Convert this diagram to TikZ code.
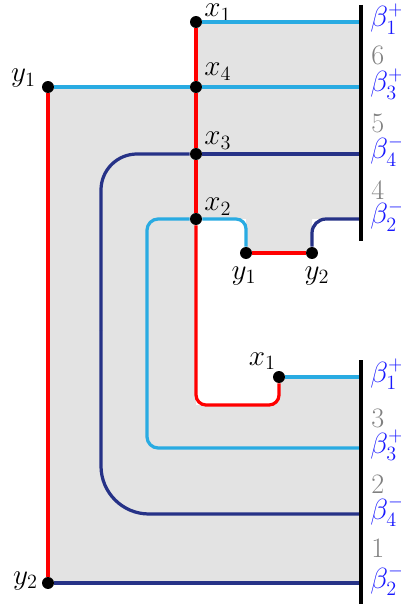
\documentclass[tikz,border=0pt]{standalone}
\usepackage{amsmath}
\usepackage{tikz}
\usepackage{xcolor}

\definecolor{sky}{RGB}{41,171,226}
\definecolor{navy}{RGB}{38,50,135}
\definecolor{betablue}{RGB}{25,25,255}

\begin{document}
\begin{tikzpicture}[x=0.025cm,y=-0.025cm,font=\fontsize{20}{24}\selectfont,
    dot/.style={circle,fill=black,inner sep=0pt,minimum size=8.5pt},
    redl/.style={line width=2.3pt,red},
    skyl/.style={line width=2.3pt,sky},
    navyl/.style={line width=2.3pt,navy},
    bar/.style={line width=3pt,black},
    xl/.style={anchor=base west,inner sep=0pt},
    xr/.style={anchor=base east,inner sep=0pt},
    yl/.style={anchor=base,inner sep=0pt},
    blab/.style={anchor=base west,inner sep=0pt,text=betablue},
    num/.style={anchor=base west,inner sep=0pt,text=gray}]
  \useasboundingbox (0,0) rectangle (400,609);

  % shaded region
  \fill[black!11] (196,22) -- (361,22) -- (361,219) -- (312,219) [rounded corners=3.5mm]
    -- (312,253) [sharp corners] -- (246,253) -- (246,219) [rounded corners=2.5mm]
    -- (196,219) [sharp corners] -- (196,405) [rounded corners=2.5mm] -- (279,405)
    -- (279,377) [sharp corners] -- (361,377) -- (361,583) -- (48,583) -- (48,87)
    -- (196,87) -- cycle;

  % points
  \node[dot] (X1) at (196,22) {};
  \node[dot] (X4) at (196,87) {};
  \node[dot] (X3) at (196,154) {};
  \node[dot] (X2) at (196,219) {};
  \node[dot] (Y1) at (48,87) {};
  \node[dot] (Y2) at (48,583) {};
  \node[dot] (Y1m) at (246,253) {};
  \node[dot] (Y2m) at (312,253) {};
  \node[dot] (X1m) at (279,377) {};

  % their names
  \node[xl] (lX1) at ([shift={(8,-5)}]X1) {$x_1$};
  \node[xl] (lX4) at ([shift={(8,-11)}]X4) {$x_4$};
  \node[xl] (lX3) at ([shift={(8,-9)}]X3) {$x_3$};
  \node[xl] (lX2) at ([shift={(8,-8)}]X2) {$x_2$};
  \node[xr] (lY1) at ([shift={(-12,-5)}]Y1) {$y_1$};
  \node[xr] (lY2) at ([shift={(-10,1)}]Y2) {$y_2$};
  \node[yl] (lY1m) at ([shift={(-2,26)}]Y1m) {$y_1$};
  \node[yl] (lY2m) at ([shift={(5,26)}]Y2m) {$y_2$};
  \node[xr] (lX1m) at ([shift={(-3,-12)}]X1m) {$x_1$};

  % ends on the two bars
  \coordinate (TA) at (361,5);   \coordinate (TB) at (361,241);
  \coordinate (BA) at (361,360); \coordinate (BB) at (361,604);
  \coordinate (b1t) at (361,22);  \coordinate (b3t) at (361,87);
  \coordinate (b4t) at (361,154); \coordinate (b2t) at (361,219);
  \coordinate (b1b) at (361,377); \coordinate (b3b) at (361,448);
  \coordinate (b4b) at (361,514); \coordinate (b2b) at (361,583);
  \coordinate (M4) at (101,330);

  % --- red ---
  \draw[redl] (Y1) -- (Y2);
  \draw[redl] (X1) -- (X4);
  \draw[redl] (X4) -- (X3);
  \draw[redl] (X3) -- (X2);
  \draw[redl,rounded corners=2.5mm] (X2) -- (196,405) -- (279,405) -- (X1m);
  \draw[redl] (Y1m) -- (Y2m);

  % --- light blue ---
  \draw[skyl] (X1) -- (b1t);
  \draw[skyl] (Y1) -- (X4);
  \draw[skyl] (X4) -- (b3t);
  \draw[skyl,rounded corners=2.5mm] (X2) -- (246,219) -- (Y1m);
  \draw[skyl,rounded corners=2.8mm] (X2) -- (147,219) -- (147,448) -- (b3b);
  \draw[skyl] (X1m) -- (b1b);

  % --- dark blue ---
  \draw[navyl] (X3) -- (b4t);
  \draw[navyl,rounded corners=9mm] (X3) -- (101,154) -- (M4);
  \draw[navyl,rounded corners=12mm] (M4) -- (101,514) -- (b4b);
  \draw[navyl,rounded corners=3.5mm] (Y2m) -- (312,219) -- (b2t);
  \draw[navyl] (Y2) -- (b2b);

  % bars
  \draw[bar] (TA) -- (TB);
  \draw[bar] (BA) -- (BB);

  % labels at the bars
  \node[blab] (L1t) at (370,27)  {$\beta_1^+$};
  \node[blab] (L3t) at (370,92)  {$\beta_3^+$};
  \node[blab] (L4t) at (370,159) {$\beta_4^-$};
  \node[blab] (L2t) at (370,224) {$\beta_2^-$};
  \node[blab] (L1b) at (370,382) {$\beta_1^+$};
  \node[blab] (L3b) at (370,453) {$\beta_3^+$};
  \node[blab] (L4b) at (370,519) {$\beta_4^-$};
  \node[blab] (L2b) at (370,588) {$\beta_2^-$};
  \node[num] (N6) at (371,65)  {6};
  \node[num] (N5) at (371,133) {5};
  \node[num] (N4) at (371,200) {4};
  \node[num] (N3) at (371,427) {3};
  \node[num] (N2) at (371,493) {2};
  \node[num] (N1) at (371,557) {1};
\end{tikzpicture}
\end{document}
